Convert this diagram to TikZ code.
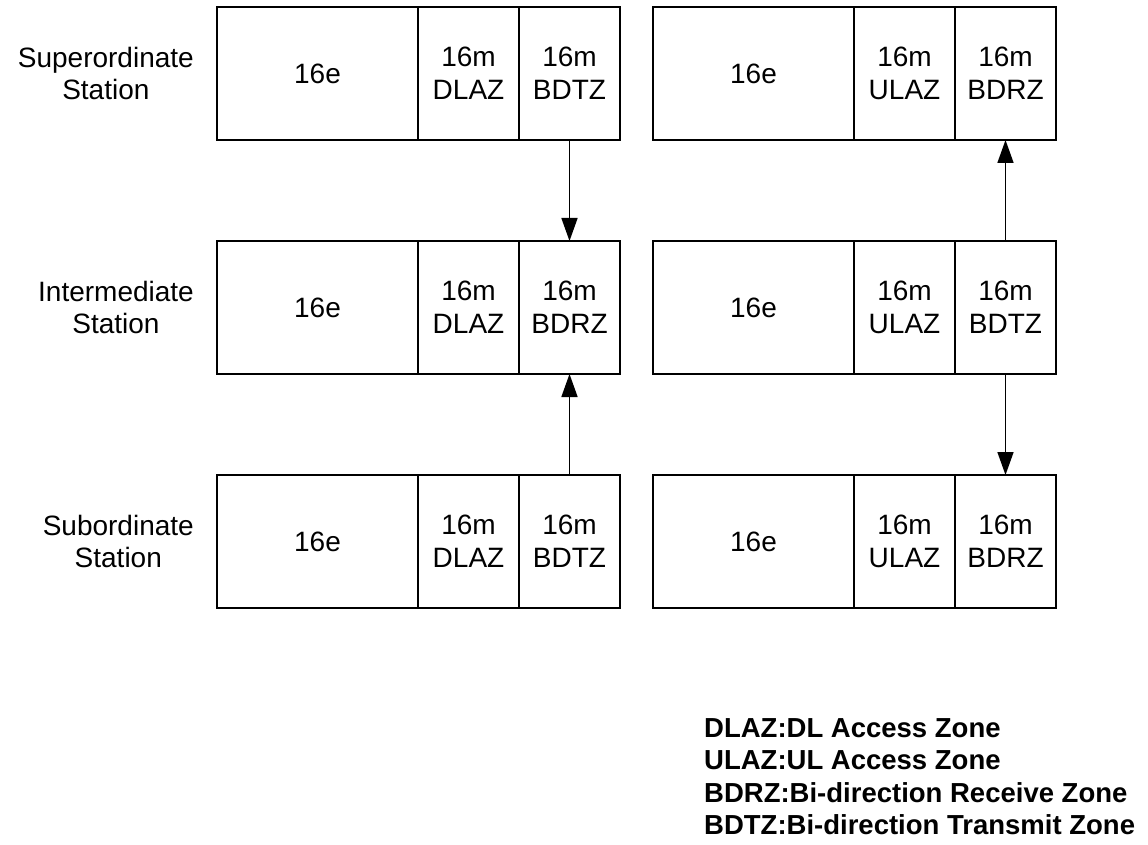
\documentclass[tikz,border=0pt]{standalone}
\usepackage{fontspec}
\setmainfont{Liberation Sans}
\usetikzlibrary{
	positioning,
	arrows.meta
}
\tikzset{
	cellbox/.style={
		draw,
		line width=1.4pt,
		minimum height=133pt,
		inner sep=0pt,
		outer sep=0pt,
		align=center,
		font=\fontsize{28}{33}\selectfont
	},
	widecell/.style={cellbox, minimum width=201pt},
	narrowcell/.style={cellbox, minimum width=101pt},
	stationlabel/.style={
		align=center,
		inner sep=0pt,
		font=\fontsize{28}{32}\selectfont
	},
	arrow/.style={
		-{Triangle[length=23pt,width=16pt]},
		line width=1.6pt
	},
	legend/.style={
		align=left,
		inner sep=0pt,
		font=\fontsize{27.5}{32.5}\selectfont\bfseries
	}
}

\begin{document}
\begin{tikzpicture}[x=1pt, y=-1pt]
	\useasboundingbox (0,0) rectangle (1148,845);
	
	% Row 1: superordinate
	\node[widecell] (supL) at (317.5,73.5) {16e};
	\node[narrowcell, right=0pt of supL] (supLa) {16m\\DLAZ};
	\node[narrowcell, right=0pt of supLa] (supLb) {16m\\BDTZ};
	\node[widecell, right=33pt of supLb] (supR) {16e};
	\node[narrowcell, right=0pt of supR] (supRa) {16m\\ULAZ};
	\node[narrowcell, right=0pt of supRa] (supRb) {16m\\BDRZ};
	
	% Row 2: intermediate
	\node[widecell, below=101pt of supL] (midL) {16e};
	\node[narrowcell, right=0pt of midL] (midLa) {16m\\DLAZ};
	\node[narrowcell, right=0pt of midLa] (midLb) {16m\\BDRZ};
	\node[widecell, right=33pt of midLb] (midR) {16e};
	\node[narrowcell, right=0pt of midR] (midRa) {16m\\ULAZ};
	\node[narrowcell, right=0pt of midRa] (midRb) {16m\\BDTZ};
	
	% Row 3: subordinate
	\node[widecell, below=101pt of midL] (subL) {16e};
	\node[narrowcell, right=0pt of subL] (subLa) {16m\\DLAZ};
	\node[narrowcell, right=0pt of subLa] (subLb) {16m\\BDTZ};
	\node[widecell, right=33pt of subLb] (subR) {16e};
	\node[narrowcell, right=0pt of subR] (subRa) {16m\\ULAZ};
	\node[narrowcell, right=0pt of subRa] (subRb) {16m\\BDRZ};
	
	% Station labels
	\node[stationlabel, left=23pt of supL] (supLabel) {Superordinate\\Station};
	\node[stationlabel, left=23pt of midL] (midLabel) {Intermediate\\Station};
	\node[stationlabel, left=23pt of subL] (subLabel) {Subordinate\\Station};
	
	% Arrows
	\draw[arrow] (supLb.south) -- (midLb.north);
	\draw[arrow] (subLb.north) -- (midLb.south);
	\draw[arrow] (midRb.north) -- (supRb.south);
	\draw[arrow] (midRb.south) -- (subRb.north);
	
	% Key
	\node[legend, anchor=north west] (key) at (704,718)
	{DLAZ:DL Access Zone\\
		ULAZ:UL Access Zone\\
		BDRZ:Bi-direction Receive Zone\\
		BDTZ:Bi-direction Transmit Zone};
	
\end{tikzpicture}
\end{document}
